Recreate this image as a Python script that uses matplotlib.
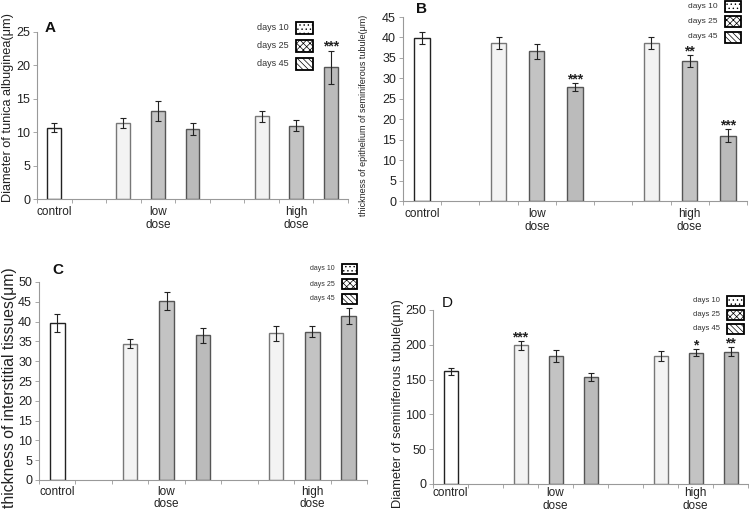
import matplotlib.pyplot as plt
from matplotlib.patches import Rectangle

plt.rcParams['font.family'] = ['Liberation Sans', 'DejaVu Sans']
plt.rcParams['hatch.linewidth'] = 0.5

W, H = 749, 515

group_labels = ['control', 'low\ndose', 'high\ndose']
group_pos = [0, 3, 7]
legend_labels = ['days 10', 'days 25', 'days 45']

# slots: control, low dose (10, 25, 45 days), high dose (10, 25, 45 days)
positions = [0, 2, 3, 4, 6, 7, 8]
series = ['control', 'd10', 'd25', 'd45', 'd10', 'd25', 'd45']

a_vals = [10.7, 11.4, 13.2, 10.5, 12.4, 11.0, 19.7]
a_err = [0.7, 0.8, 1.5, 0.95, 0.8, 0.8, 2.5]
a_stars = ['', '', '', '', '', '', '***']

b_vals = [39.8, 38.6, 36.6, 27.8, 38.6, 34.2, 16.0]
b_err = [1.45, 1.5, 1.9, 1.0, 1.5, 1.5, 1.6]
b_stars = ['', '', '', '***', '', '**', '***']

c_vals = [39.6, 34.4, 45.2, 36.5, 37.0, 37.4, 41.4]
c_err = [2.2, 1.1, 2.3, 1.8, 1.8, 1.4, 2.1]
c_stars = ['', '', '', '', '', '', '']

d_vals = [162, 199, 184, 153.5, 184, 188.5, 190]
d_err = [5, 6, 8.5, 5.5, 7, 5, 6.5]
d_stars = ['', '***', '', '', '', '*', '**']

fill = {'control': 'white', 'd10': '#f3f3f3', 'd25': '#c3c3c3', 'd45': '#bbbbbb'}
edge = {'control': '#222222', 'd10': '#777777', 'd25': '#555555', 'd45': '#555555'}
hatches = ['....', 'xxxxx', '\\\\\\\\\\\\']

fig = plt.figure(figsize=(W / 100, H / 100), dpi=100)


def px_axes(l, r, b, t):
    return fig.add_axes([l / W, 1 - b / H, (r - l) / W, (b - t) / H])


def panel(box, vals, err, stars, ymax, step, ylabel, ylab_xy, ylab_fs,
          letter, letter_xy, bold, leg, xpad=5):
    ax = px_axes(*box)
    for p, s, v, e in zip(positions, series, vals, err):
        ax.bar(p, v, width=0.4, color=fill[s], edgecolor=edge[s], linewidth=1.0)
        ax.errorbar(p, v, yerr=e, color='#222222', elinewidth=0.8,
                    capsize=2, capthick=0.8)
    for p, v, e, st in zip(positions, vals, err, stars):
        if st:
            ax.annotate(st, (p, v + e), xytext=(0, 0), textcoords='offset points',
                        ha='center', va='baseline', fontsize=10, fontweight='bold',
                        color='#222222')
    ax.set_xlim(-0.5, 8.5)
    ax.set_ylim(0, ymax)
    ax.set_yticks(range(0, ymax + 1, step))
    ax.set_xticks(group_pos)
    ax.set_xticklabels(group_labels, fontsize=8.5, color='#222222', linespacing=1.1)
    ax.set_xticks([i - 0.5 for i in range(10)], minor=True)
    ax.tick_params(axis='x', which='major', length=0, pad=xpad)
    ax.tick_params(axis='x', which='minor', length=3, color='#999999', width=0.6)
    ax.tick_params(axis='y', length=3, color='#999999', width=0.6,
                   labelsize=9, labelcolor='#222222', pad=2)
    for sp in ['top', 'right']:
        ax.spines[sp].set_visible(False)
    for sp in ['left', 'bottom']:
        ax.spines[sp].set_color('#999999')
        ax.spines[sp].set_linewidth(0.8)
    fig.text(ylab_xy[0] / W, 1 - ylab_xy[1] / H, ylabel, rotation=90,
             ha='center', va='center', fontsize=ylab_fs, color='#222222')
    fig.text(letter_xy[0] / W, 1 - letter_xy[1] / H, letter, ha='left', va='center',
             fontsize=11, fontweight='bold' if bold else 'normal', color='#111111')
    # legend: label text on the left, hatched box on the right
    px, py, dy, pw, ph, fs = leg
    for i, (lab, h) in enumerate(zip(legend_labels, hatches)):
        yc = py + i * dy
        fig.patches.append(Rectangle((px / W, 1 - (yc + ph / 2) / H), pw / W, ph / H,
                                     transform=fig.transFigure, facecolor='white',
                                     edgecolor='black', linewidth=1.3, hatch=h))
        fig.text((px - 7) / W, 1 - yc / H, lab, ha='right', va='center',
                 fontsize=fs, color='#333333')
    return ax


panel((37, 348, 199, 32), a_vals, a_err, a_stars, 25, 5,
      'Diameter of tunica albuginea(μm)', (8, 108), 9.2,
      'A', (45, 28), True, (296, 28, 18, 17, 12, 6.5))
panel((403, 747, 201, 17), b_vals, b_err, b_stars, 45, 5,
      'thickness of epithelium of seminiferous tubule(μm)', (364, 115), 6.5,
      'B', (416, 9), True, (725, 6, 15.5, 16, 11, 6))
panel((39, 367, 480, 282), c_vals, c_err, c_stars, 50, 5,
      'thickness of interstitial tissues(μm)', (10, 388), 11.3,
      'C', (52, 270), True, (342, 269, 15, 15, 10, 5), xpad=4)
panel((433, 748, 484, 310), d_vals, d_err, d_stars, 250, 50,
      'Diameter of seminiferous tubule(μm)', (398, 404), 9.3,
      'D', (442, 303), False, (727, 301, 14, 17, 10, 5.5), xpad=2)

fig.savefig('out.png', dpi=100)
